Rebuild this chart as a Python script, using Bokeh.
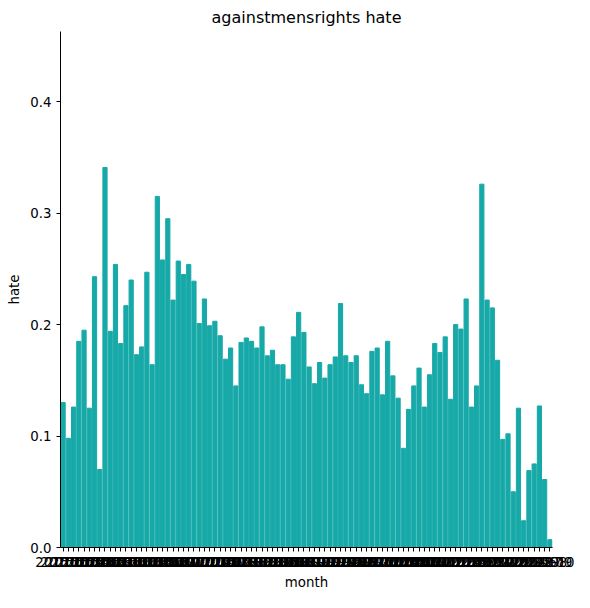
from bokeh.plotting import figure
from bokeh.embed import file_html
from bokeh.resources import INLINE
from bokeh.models import FixedTicker, Range1d, CustomJSTickFormatter

hate = [0.130,0.098,0.126,0.185,0.195,0.125,0.243,0.070,0.341,0.194,0.254,0.183,0.217,0.240,0.173,0.180,0.247,0.164,0.315,0.258,
        0.295,0.222,0.257,0.245,0.254,0.239,0.201,0.223,0.199,0.203,0.190,0.169,0.179,0.145,0.184,0.188,0.185,0.179,0.198,0.172,
        0.177,0.164,0.164,0.151,0.189,0.211,0.193,0.162,0.147,0.166,0.152,0.164,0.171,0.219,0.172,0.166,0.172,0.146,0.138,0.176,
        0.179,0.137,0.185,0.154,0.134,0.089,0.124,0.145,0.161,0.126,0.155,0.183,0.175,0.189,0.133,0.200,0.196,0.223,0.126,0.145,
        0.326,0.222,0.215,0.168,0.097,0.102,0.050,0.125,0.024,0.069,0.075,0.127,0.061,0.007]
months = []
y, m = 2015, 1
for _ in hate:
    months.append(f"{y}-{m:02d}")
    m += 1
    if m > 12:
        m = 1; y += 1

xs = list(range(len(hate)))
p = figure(width=574, height=592, output_backend="svg", toolbar_location=None,
           title="againstmensrights hate", x_range=Range1d(-0.5, len(hate) - 0.5),
           y_range=Range1d(0, 0.463), min_border_left=60, min_border_right=22,
           min_border_top=24, min_border_bottom=37)
p.vbar(x=xs, top=hate, width=0.8, color="#17a9a8")
p.title.align = "center"
p.title.text_font_style = "normal"
p.title.text_font_size = "12pt"
p.title.text_font = "DejaVu Sans"
p.title.text_color = "black"
p.outline_line_color = None
p.grid.visible = False
p.xaxis.ticker = FixedTicker(ticks=xs)
p.xaxis.major_label_overrides = {i: s for i, s in enumerate(months)}
p.yaxis.ticker = FixedTicker(ticks=[0, 0.1, 0.2, 0.3, 0.4])
p.yaxis.formatter = CustomJSTickFormatter(code="return tick.toFixed(1)")
p.xaxis.axis_label = "month"
p.yaxis.axis_label = "hate"
for ax in (p.xaxis, p.yaxis):
    ax.minor_tick_line_color = None
    ax.major_tick_out = 4
    ax.major_tick_in = 0
    ax.major_label_text_font = "DejaVu Sans"
    ax.major_label_text_font_size = "10pt"
    ax.axis_label_text_font = "DejaVu Sans"
    ax.axis_label_text_font_style = "normal"
    ax.axis_label_text_font_size = "10pt"
    ax.axis_label_text_color = "black"
    ax.major_label_text_color = "black"
open("out.html", "w").write(file_html(p, INLINE))
